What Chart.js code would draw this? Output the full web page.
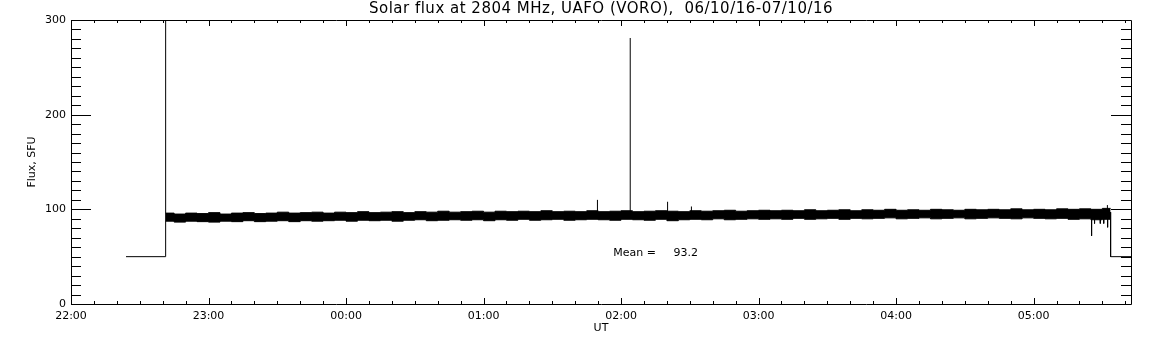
<!DOCTYPE html>
<html>
<head>
<meta charset="utf-8">
<script src="https://cdn.jsdelivr.net/npm/chart.js@4/dist/chart.umd.min.js"></script>
<style>
  body { margin: 0; background: #fff; }
  #wrap { width: 1152px; height: 345px; }
</style>
</head>
<body>
<div id="wrap"><canvas id="chFlux"></canvas></div>
<script>
// time axis is in minutes after 22:00 UT
var xMin = 0;
var xMax = 462.5;
var yMin = 0;
var yMax = 300;
var titleText = "Solar flux at 2804 MHz, UAFO (VORO),  06/10/16-07/10/16";
var meanValue = 93.2;

// noisy flux band: upper and lower edge, every 5 min
var bandTimes = [41.3, 45, 50, 55, 60, 65, 70, 75, 80, 85, 90, 95, 100, 105, 110, 115, 120, 125, 130, 135, 140,
  145, 150, 155, 160, 165, 170, 175, 180, 185, 190, 195, 200, 205, 210, 215, 220, 225, 230, 235, 240,
  245, 250, 255, 260, 265, 270, 275, 280, 285, 290, 295, 300, 305, 310, 315, 320, 325, 330, 335, 340,
  345, 350, 355, 360, 365, 370, 375, 380, 385, 390, 395, 400, 405, 410, 415, 420, 425, 430, 435, 440,
  445, 450, 453.6];
var bandHigh = [96, 95, 96, 95.5, 96.5, 95, 96, 96.5, 95.5, 96, 97, 96, 96.5, 97, 96, 97, 96.5, 97.5, 96.5, 97, 97.5,
  96.5, 97.5, 97, 98, 97, 97.5, 98, 97, 98, 97.5, 98, 97.5, 98.5, 97.5, 98, 97.5, 98.5, 97.5, 98, 98.5,
  97.5, 98, 98.5, 98, 97.5, 98.5, 98, 98.5, 99, 98, 98.5, 99, 98.5, 99, 98.5, 99.5, 98.5, 99, 99.5, 98.5,
  99.5, 99, 100, 99, 99.5, 99, 100, 99.5, 99, 100, 99.5, 100, 99.5, 100.5, 99.5, 100, 99.5, 100.5, 100, 100.5,
  100, 101, 101];
var bandLow = [87.5, 86.5, 87.5, 87, 86.5, 87.5, 87, 88, 87, 87.5, 88, 87, 88, 87.5, 88, 88.5, 87.5, 88.5, 88, 88.5, 87.5,
  88.5, 89, 88, 88.5, 89, 88.5, 89, 88, 89, 88.5, 89.5, 88.5, 89, 89.5, 88.5, 89, 89.5, 89, 88.5, 89.5,
  89, 88.5, 89.5, 88, 89, 89.5, 89, 90, 89, 89.5, 90, 89.5, 90, 89.5, 90.5, 89.5, 90, 90.5, 89.5, 90.5,
  90, 90.5, 91, 90, 90.5, 91, 90, 90.5, 91, 90, 90.5, 91, 90.5, 90, 91, 90.5, 90, 90.5, 89.5, 90,
  89, 89.5, 89.5];

// calibration steps before and after the observation
var stepTimes = [24, 41.3, 41.3, null, 453.6, 453.6, 462.5];
var stepValues = [50, 50, 330, null, 97, 50, 50];

// single spikes up and dips down
var spikeTimes = [229.7, 244.0, 260.3, 270.7, 452.2];
var spikeFrom = [96, 96, 96, 96, 98];
var spikeTops = [110, 281, 108, 103, 104.5];
var dipTimes = [445.3, 446.6, 449.1, 450.6, 452.3];
var dipFrom = [92, 92, 92, 92, 92];
var dipLows = [72, 85, 85, 85, 81];

// position of the mean label (data units)
var meanLabelAt = [236.6, 54];

function pts(xs, ys) {
  var out = [];
  for (var i = 0; i < xs.length; i++) {
    if (xs[i] === null) out.push({ x: out[out.length - 1].x, y: null });
    else out.push({ x: xs[i], y: ys[i] });
  }
  return out;
}

function strokes(xs, from, to) {
  var out = [];
  for (var i = 0; i < xs.length; i++) {
    out.push({ x: xs[i], y: from[i] });
    out.push({ x: xs[i], y: to[i] });
    out.push({ x: xs[i], y: null });
  }
  return out;
}

function hhmm(m) {
  var h = (22 + Math.floor(m / 60)) % 24;
  var mm = Math.round(m % 60);
  return (h < 10 ? "0" : "") + h + ":" + (mm < 10 ? "0" : "") + mm;
}

Chart.defaults.font.family = "'DejaVu Sans', sans-serif";
Chart.defaults.font.size = 11;
Chart.defaults.color = "#000";

var lineStyle = { borderColor: "#000", borderWidth: 1, pointRadius: 0, tension: 0, fill: false };

// frame, inward ticks, title and mean label
var idlFrame = {
  id: "idlFrame",
  afterDatasetsDraw: function (chart) {
    var ctx = chart.ctx;
    var a = chart.chartArea;
    var xs = chart.scales.x;
    var ys = chart.scales.y;
    ctx.save();
    ctx.strokeStyle = "#000";
    ctx.lineWidth = 1;
    ctx.beginPath();
    ctx.rect(Math.round(a.left) + 0.5, Math.round(a.top) + 0.5, Math.round(a.right - a.left), Math.round(a.bottom - a.top));
    for (var m = xMin; m <= xMax; m += 10) {
      var px = Math.round(xs.getPixelForValue(m)) + 0.5;
      var len = m % 60 === 0 ? 6 : 3;
      ctx.moveTo(px, a.bottom); ctx.lineTo(px, a.bottom - len);
      ctx.moveTo(px, a.top); ctx.lineTo(px, a.top + len);
    }
    for (var v = yMin; v <= yMax; v += 10) {
      var py = Math.round(ys.getPixelForValue(v)) + 0.5;
      var l2 = v % 100 === 0 ? 20 : 10;
      ctx.moveTo(a.left, py); ctx.lineTo(a.left + l2, py);
      ctx.moveTo(a.right, py); ctx.lineTo(a.right - l2, py);
    }
    ctx.stroke();

    ctx.fillStyle = "#000";
    ctx.textBaseline = "middle";
    ctx.textAlign = "center";
    ctx.font = "15px 'DejaVu Sans'";
    ctx.letterSpacing = "0.5px";
    ctx.fillText(titleText, (a.left + a.right) / 2, 9.5);
    ctx.letterSpacing = "0px";
    ctx.textAlign = "left";
    ctx.font = "11px 'DejaVu Sans'";
    ctx.fillText("Mean =     " + meanValue.toFixed(1), xs.getPixelForValue(meanLabelAt[0]), ys.getPixelForValue(meanLabelAt[1]));
    ctx.restore();
  }
};

var chFlux = document.getElementById("chFlux");
if (chFlux) {
  new Chart(chFlux, {
    type: "line",
    data: {
      datasets: [
        { data: pts(bandTimes, bandHigh), fill: "+1", backgroundColor: "#000", borderColor: "#000", borderWidth: 1, pointRadius: 0, stepped: true },
        Object.assign({ data: pts(bandTimes, bandLow), stepped: true }, lineStyle),
        Object.assign({ data: pts(stepTimes, stepValues) }, lineStyle),
        Object.assign({ data: strokes(spikeTimes, spikeFrom, spikeTops) }, lineStyle),
        Object.assign({ data: strokes(dipTimes, dipFrom, dipLows) }, lineStyle)
      ]
    },
    options: {
      responsive: true,
      maintainAspectRatio: false,
      devicePixelRatio: 1,
      animation: false,
      layout: { padding: { top: 20, right: 21, left: 0, bottom: 0 } },
      plugins: { legend: { display: false }, tooltip: { enabled: false } },
      scales: {
        x: {
          type: "linear",
          min: xMin,
          max: xMax,
          offset: false,
          grid: { display: false, drawTicks: false },
          border: { display: false },
          ticks: {
            stepSize: 60,
            includeBounds: false,
            autoSkip: false,
            maxRotation: 0,
            padding: 6,
            callback: function (v) { return v % 60 === 0 ? hhmm(v) : ""; }
          },
          title: { display: true, text: "UT", padding: { top: 0, bottom: 10.4 } },
          afterFit: function (scale) { scale.height = 41; }
        },
        y: {
          min: yMin,
          max: yMax,
          grid: { display: false, drawTicks: false },
          border: { display: false },
          ticks: { stepSize: 100, padding: 5 },
          title: { display: true, text: "Flux, SFU", padding: { top: 26, bottom: 0 } },
          afterFit: function (scale) { scale.width = 71; }
        }
      }
    },
    plugins: [idlFrame]
  });
}
</script>
</body>
</html>
